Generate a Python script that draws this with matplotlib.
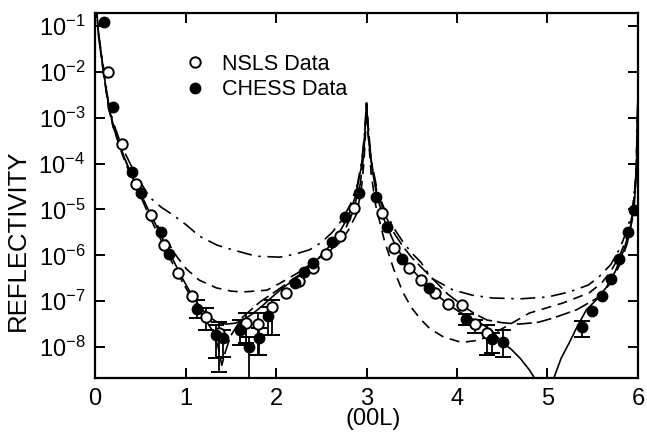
import numpy as np
import matplotlib
matplotlib.use('Agg')
import matplotlib.pyplot as plt
from matplotlib.lines import Line2D

plt.rcParams['font.family'] = ['Liberation Sans', 'DejaVu Sans']

# ---- data (L in r.l.u., values as log10 reflectivity) ----
nsls_L = [0.138, 0.293, 0.448, 0.613, 0.757, 0.912, 1.066, 1.221, 1.365, 1.663, 1.796,
          1.950, 2.105, 2.249, 2.403, 2.547, 2.702, 2.867, 3.166, 3.309, 3.464, 3.597,
          3.762, 3.906, 4.050, 4.204, 4.337]
nsls_logR = [-2.00, -3.57, -4.45, -5.12, -5.78, -6.39, -6.89, -7.35, -7.69, -7.48, -7.50,
             -7.13, -6.82, -6.56, -6.28, -5.97, -5.58, -4.97, -5.08, -5.84, -6.28, -6.54,
             -6.82, -7.06, -7.08, -7.50, -7.69]

chess_L = [0.094, 0.193, 0.403, 0.503, 0.724, 0.812, 1.122, 1.332, 1.409, 1.597, 1.696,
           1.807, 1.906, 2.204, 2.304, 2.403, 2.613, 2.757, 2.912, 3.110, 3.221, 3.387,
           3.696, 4.105, 4.392, 4.503, 5.387, 5.497, 5.608, 5.707, 5.796, 5.895, 5.961]
chess_logR = [-0.91, -2.77, -4.18, -4.64, -5.49, -5.97, -7.17, -7.74, -7.80, -7.63, -8.00,
              -7.80, -7.32, -6.60, -6.36, -6.17, -5.71, -5.17, -4.64, -4.73, -5.38, -6.08,
              -6.71, -7.39, -7.83, -7.89, -7.56, -7.22, -6.89, -6.52, -6.08, -5.49, -5.01]

# error bars (log10 of the bar ends)
nsls_err_L = [1.221, 1.365, 1.663, 1.796, 1.950, 4.204, 4.337]
nsls_err_top = [-7.15, -7.45, -7.26, -7.26, -6.98, -7.41, -7.52]
nsls_err_bot = [-7.63, -8.55, -7.91, -8.17, -7.74, -7.69, -8.17]
chess_err_L = [1.122, 1.332, 1.409, 1.597, 1.696, 1.807, 1.906, 4.105, 4.392, 4.503, 5.387]
chess_err_top = [-6.98, -7.52, -7.63, -7.41, -7.78, -7.59, -7.13, -7.28, -7.69, -7.63, -7.43]
chess_err_bot = [-7.37, -8.24, -8.22, -7.96, -9.00, -8.17, -7.74, -7.52, -8.13, -8.22, -7.78]

# model curves
solid_L = [0.01, 0.04, 0.094, 0.15, 0.20, 0.27, 0.35, 0.45, 0.55, 0.65, 0.75, 0.85, 0.95,
           1.05, 1.15, 1.25, 1.35, 1.45, 1.55, 1.65, 1.75, 1.85, 1.95, 2.05, 2.15, 2.3,
           2.4, 2.5, 2.6, 2.7, 2.8, 2.88, 2.94, 2.98, 3.0, 3.02, 3.06, 3.12, 3.2, 3.3, 3.4,
           3.5, 3.6, 3.7, 3.8, 3.9, 4.0, 4.1, 4.2, 4.3, 4.4, 4.5, 4.6, 4.7, 4.8, 4.88,
           4.93, 5.04, 5.07, 5.15, 5.24, 5.33, 5.43, 5.55, 5.65, 5.75, 5.85, 5.92, 5.96,
           5.99, 6.0]
solid_logR = [-0.5, -1.2, -2.0, -2.75, -3.15, -3.6, -4.0, -4.45, -4.85, -5.25, -5.65, -6.05,
              -6.45, -6.8, -7.1, -7.33, -7.46, -7.5, -7.48, -7.4, -7.26, -7.1, -6.92, -6.75,
              -6.6, -6.37, -6.2, -6.0, -5.78, -5.5, -5.15, -4.7, -4.1, -3.4, -2.68, -3.4,
              -4.1, -4.75, -5.25, -5.7, -6.05, -6.3, -6.52, -6.72, -6.9, -7.06, -7.2, -7.32,
              -7.42, -7.53, -7.68, -7.9, -8.05, -8.25, -8.5, -8.75, -9.5, -9.5, -8.68,
              -8.25, -7.91, -7.55, -7.19, -6.95, -6.7, -6.35, -5.85, -5.35, -4.9, -3.9, -2.5]

dashdot_L = [0.01, 0.04, 0.1, 0.15, 0.2, 0.3, 0.4, 0.5, 0.6, 0.73, 0.86, 1.01, 1.15, 1.35,
             1.52, 1.78, 2.04, 2.2, 2.37, 2.5, 2.62, 2.72, 2.82, 2.9, 2.95, 2.98, 3.0,
             3.02, 3.06, 3.12, 3.2, 3.3, 3.4, 3.5, 3.6, 3.72, 3.95, 4.17, 4.39, 4.69, 5.0,
             5.24, 5.45, 5.57, 5.7, 5.8, 5.88, 5.94, 5.98, 6.0]
dashdot_logR = [-0.5, -1.2, -2.0, -2.7, -3.1, -3.65, -4.05, -4.4, -4.73, -4.95, -5.12,
                -5.34, -5.58, -5.78, -5.88, -6.02, -6.04, -5.98, -5.88, -5.72, -5.5, -5.25,
                -4.9, -4.45, -3.9, -3.3, -2.68, -3.4, -4.0, -4.6, -5.0, -5.4, -5.7, -5.95,
                -6.15, -6.5, -6.75, -6.87, -6.93, -6.95, -6.91, -6.8, -6.65, -6.47, -6.2,
                -5.85, -5.45, -5.0, -4.2, -2.5]

dashB_L = [0.01, 0.04, 0.1, 0.15, 0.2, 0.3, 0.4, 0.5, 0.6, 0.7, 0.8, 0.9, 1.01, 1.15, 1.34,
           1.5, 1.63, 1.9, 2.07, 2.26, 2.45, 2.7, 2.8, 2.89, 2.94, 2.97, 2.99, 3.0, 3.02,
           3.05, 3.1, 3.2, 3.3, 3.4, 3.5, 3.6, 3.7, 3.85, 4.05, 4.25, 4.5, 4.8, 5.17, 5.46,
           5.6, 5.7, 5.8, 5.88, 5.94, 5.98, 6.0]
dashB_logR = [-0.5, -1.25, -2.05, -2.75, -3.2, -3.8, -4.3, -4.7, -5.05, -5.38, -5.7, -6.02,
              -6.3, -6.54, -6.71, -6.78, -6.8, -6.76, -6.58, -6.36, -6.1, -5.73, -5.45,
              -5.1, -4.6, -4.0, -3.3, -2.68, -3.4, -4.2, -4.9, -5.7, -6.3, -6.8, -7.15,
              -7.4, -7.6, -7.78, -7.9, -7.85, -7.6, -7.26, -7.04, -6.82, -6.6, -6.35, -6.0,
              -5.6, -5.1, -4.2, -2.5]

dashC_L = [0.01, 0.04, 0.09, 0.15, 0.2, 0.3, 0.4, 0.5, 0.6, 0.7, 0.8, 0.9, 1.0, 1.1, 1.2,
           1.3, 1.36, 1.4, 1.44, 1.5, 1.63, 1.82, 2.0, 2.2, 2.4, 2.6, 2.75, 2.85, 2.93,
           2.97, 3.0, 3.02, 3.05, 3.1, 3.2, 3.3, 3.4, 3.5, 3.6, 3.7, 3.8, 3.9, 4.0, 4.1,
           4.2, 4.33, 4.5, 4.69, 4.9, 5.06, 5.32, 5.57, 5.7, 5.8, 5.88, 5.94, 5.98, 6.0]
dashC_logR = [-0.5, -1.25, -2.0, -2.8, -3.2, -3.75, -4.25, -4.7, -5.15, -5.55, -5.95, -6.35,
              -6.7, -7.05, -7.35, -7.65, -8.0, -8.4, -8.1, -7.75, -7.35, -7.02, -6.78, -6.5,
              -6.25, -5.9, -5.5, -5.05, -4.45, -3.8, -2.68, -3.2, -3.9, -4.5, -5.1, -5.5,
              -5.8, -6.05, -6.25, -6.45, -6.65, -6.85, -7.0, -7.15, -7.28, -7.41, -7.47,
              -7.5, -7.46, -7.37, -7.19, -6.91, -6.6, -6.2, -5.75, -5.2, -4.3, -2.5]

x_ticks = [0, 1, 2, 3, 4, 5, 6]
y_decades = [-1, -2, -3, -4, -5, -6, -7, -8]


def p(v):
    return 10.0 ** np.asarray(v)


fig = plt.figure(figsize=(6.47, 4.36), dpi=100)
ax = fig.add_axes([0.147, 0.133, 0.839, 0.837])

lw = 1.2
ax.plot(solid_L, p(solid_logR), '-', color='black', lw=lw)
ax.plot(dashdot_L, p(dashdot_logR), color='black', lw=lw, dashes=(9, 4, 1.5, 4))
ax.plot(dashB_L, p(dashB_logR), color='black', lw=lw, dashes=(6, 4))
ax.plot(dashC_L, p(dashC_logR), color='black', lw=lw, dashes=(9, 3))

# error bars
ax.vlines(nsls_err_L, p(nsls_err_bot), p(nsls_err_top), color='black', lw=1.3, zorder=3)
ax.vlines(chess_err_L, p(chess_err_bot), p(chess_err_top), color='black', lw=1.3, zorder=3)
cap = dict(marker='_', ms=11, mew=1.4, color='black', ls='none', zorder=3)
ax.plot(nsls_err_L, p(nsls_err_top), **cap)
ax.plot(nsls_err_L, p(nsls_err_bot), **cap)
ax.plot(chess_err_L, p(chess_err_top), **cap)
ax.plot(chess_err_L, p(chess_err_bot), **cap)

ax.plot(nsls_L, p(nsls_logR), 'o', ms=7.5, mfc='white', mec='black', mew=1.4, zorder=5)
ax.plot(chess_L, p(chess_logR), 'o', ms=7.5, mfc='black', mec='black', mew=1.0, zorder=5)

ax.set_yscale('log')
ax.set_xlim(0, 6)
ax.set_ylim(10 ** -8.676, 10 ** -0.717)

ax.set_xticks(x_ticks)
ax.set_xticklabels([str(t) for t in x_ticks])
ax.set_yticks([10.0 ** d for d in y_decades])
ax.set_yticklabels([r'$\mathregular{10^{%d}}$' % d for d in y_decades])
ax.yaxis.set_minor_locator(matplotlib.ticker.NullLocator())
ax.tick_params(direction='in', length=7, width=1.4, top=True, right=True,
               labelsize=17, pad=7)
for s in ax.spines.values():
    s.set_linewidth(1.6)

# axis titles placed by hand (the y title sits below the axes centre in the original)
fig.text(0.577, 0.040, '(00L)', fontsize=17, ha='center', va='center')
fig.text(0.027, 0.45, 'REFLECTIVITY', fontsize=18.5, ha='center', va='center',
         rotation=90)

handles = [Line2D([], [], ls='none', marker='o', ms=7.5, mfc='white', mec='black', mew=1.4),
           Line2D([], [], ls='none', marker='o', ms=7.5, mfc='black', mec='black')]
ax.legend(handles, ['NSLS Data', 'CHESS Data'], loc='upper left',
          bbox_to_anchor=(0.145, 0.918), frameon=False, fontsize=15.5,
          handlelength=1.0, handletextpad=0.75, labelspacing=0.2, borderpad=0)

fig.savefig('out.png', dpi=100)
